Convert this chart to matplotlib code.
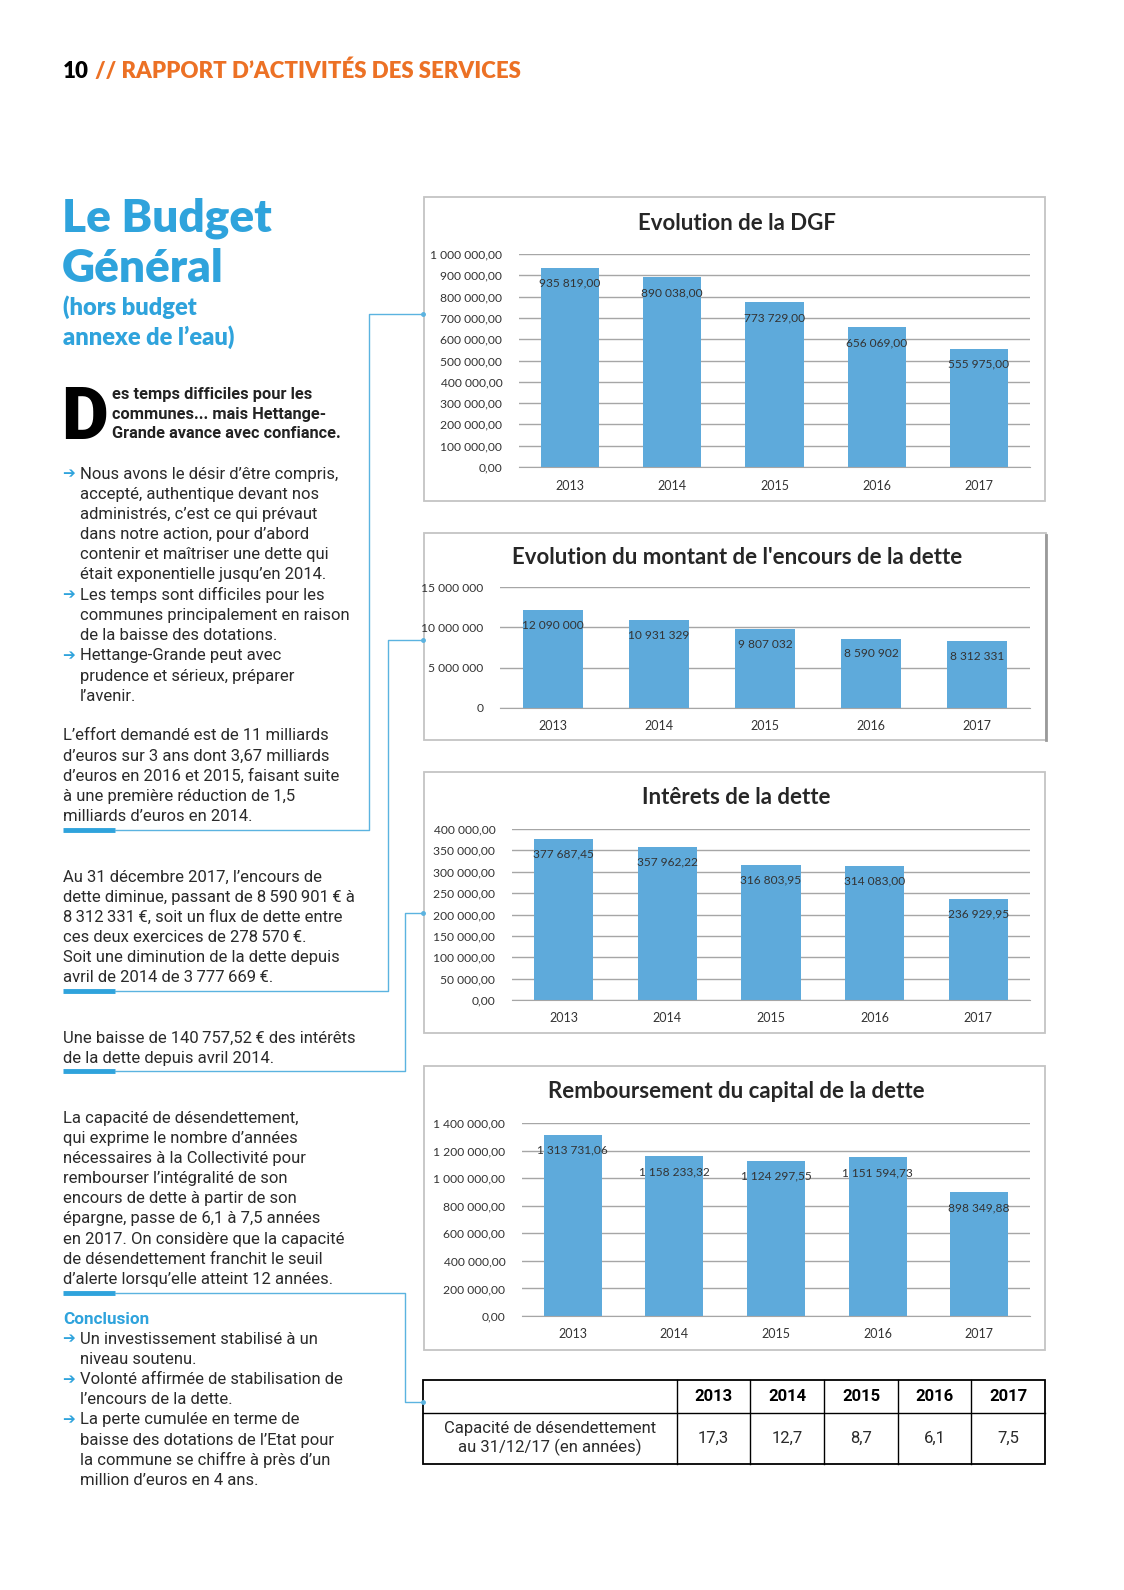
import numpy as np
import matplotlib.pyplot as plt
from matplotlib.patches import Rectangle

W, H = 1124, 1590

# données des graphiques
years = ["2013", "2014", "2015", "2016", "2017"]
dgf = [935819.00, 890038.00, 773729.00, 656069.00, 555975.00]
encours = [12090000, 10931329, 9807032, 8590902, 8312331]
interets = [377687.45, 357962.22, 316803.95, 314083.00, 236929.95]
rembours = [1313731.06, 1158233.32, 1124297.55, 1151594.73, 898349.88]
capacite = [17.3, 12.7, 8.7, 6.1, 7.5]

BLUE = "#2fa3dc"
LINE = "#5bb3e0"
BAR = "#5eaadb"
ORANGE = "#ec7125"
TXT = "#2a2a2a"
BODY = ["Roboto", "DejaVu Sans"]
CHART = ["Lato", "DejaVu Sans"]
FS = 12


def fr(v, dec=2):
    s = f"{v:,.{dec}f}"
    return s.replace(",", "X").replace(".", ",").replace("X", " ")


fig = plt.figure(figsize=(W / 100, H / 100), dpi=100)
bg = fig.add_axes([0, 0, 1, 1])
bg.set_xlim(0, W); bg.set_ylim(H, 0); bg.axis("off")

# en-tête
bg.text(63, 71, "10", fontsize=16, fontweight="heavy", family=["Lato"], color="black", va="center")
bg.text(95, 71, "// RAPPORT D\u2019ACTIVITÉS DES SERVICES", fontsize=16, fontweight="heavy",
        family=["Lato"], color=ORANGE, va="center")

# titre colonne gauche
bg.text(62, 218, "Le Budget", fontsize=33, fontweight="heavy", family=["Lato"], color=BLUE, va="center")
bg.text(62, 269, "Général", fontsize=33, fontweight="heavy", family=["Lato"], color=BLUE, va="center")
bg.text(63, 307, "(hors budget", fontsize=17, fontweight="heavy", family=["Lato"], color=BLUE, va="center")
bg.text(63, 337, "annexe de l\u2019eau)", fontsize=17, fontweight="heavy", family=["Lato"], color=BLUE, va="center")

# lettrine
bg.text(61, 439, "D", fontsize=52, fontweight="heavy", family=["Roboto"], color="black", va="baseline")
for y, s in zip([395, 415, 434], ["es temps difficiles pour les", "communes... mais Hettange-",
                                  "Grande avance avec confiance."]):
    bg.text(112, y, s, fontsize=11.8, fontweight="bold", family=BODY, color="#222222", va="center")


def para(x, y0, lines, step=20.2, bullets=()):
    for k, s in enumerate(lines):
        y = y0 + k * step
        if k in bullets:
            bg.text(62, y, "\u2794", fontsize=11, fontweight="bold", family=["DejaVu Sans"],
                    color=BLUE, va="center")
        bg.text(x, y, s, fontsize=FS, family=BODY, color=TXT, va="center")


para(80, 474, ["Nous avons le désir d\u2019être compris,", "accepté, authentique devant nos",
               "administrés, c\u2019est ce qui prévaut", "dans notre action, pour d\u2019abord",
               "contenir et maîtriser une dette qui", "était exponentielle jusqu\u2019en 2014.",
               "Les temps sont difficiles pour les", "communes principalement en raison",
               "de la baisse des dotations.", "Hettange-Grande peut avec",
               "prudence et sérieux, préparer", "l\u2019avenir."], bullets=(0, 6, 9))
para(63, 736, ["L\u2019effort demandé est de 11 milliards", "d\u2019euros sur 3 ans dont 3,67 milliards",
               "d\u2019euros en 2016 et 2015, faisant suite", "à une première réduction de 1,5",
               "milliards d\u2019euros en 2014."])
para(63, 877, ["Au 31 décembre 2017, l\u2019encours de", "dette diminue, passant de 8\u202f590\u202f901\u202f€ à",
               "8\u202f312\u202f331\u202f€, soit un flux de dette entre", "ces deux exercices de 278\u202f570\u202f€.",
               "Soit une diminution de la dette depuis", "avril de 2014 de 3\u202f777\u202f669\u202f€."])
para(63, 1038, ["Une baisse de 140\u202f757,52\u202f€ des intérêts", "de la dette depuis avril 2014."])
para(63, 1118, ["La capacité de désendettement,", "qui exprime le nombre d\u2019années",
                "nécessaires à la Collectivité pour", "rembourser l\u2019intégralité de son",
                "encours de dette à partir de son", "épargne, passe de 6,1 à 7,5 années",
                "en 2017. On considère que la capacité", "de désendettement franchit le seuil",
                "d\u2019alerte lorsqu\u2019elle atteint 12 années."])
bg.text(63, 1319, "Conclusion", fontsize=12.3, fontweight="bold", family=BODY, color=BLUE, va="center")
para(80, 1339, ["Un investissement stabilisé à un", "niveau soutenu.",
                "Volonté affirmée de stabilisation de", "l\u2019encours de la dette.",
                "La perte cumulée en terme de", "baisse des dotations de l\u2019Etat pour",
                "la commune se chiffre à près d\u2019un", "million d\u2019euros en 4 ans."],
     bullets=(0, 2, 4))

# traits de liaison
for yu, xv, yt in [(830, 369, 314), (991, 388, 640), (1071, 405, 913), (1293, 405, 1402)]:
    bg.plot([63, 115], [yu, yu], color=BLUE, lw=3.5, solid_capstyle="butt")
    bg.plot([115, xv, xv, 423], [yu, yu, yt, yt], color=LINE, lw=1)
    bg.plot([423], [yt], "o", color=LINE, ms=2.5)


def chart(box, plot, title, ty, values, ymax, step, dec):
    bx0, by0, bx1, by1 = box
    bg.add_patch(Rectangle((bx0, by0), bx1 - bx0, by1 - by0, fill=False, ec="#c4c4c4", lw=1.3))
    bg.text((bx0 + bx1) / 2 + 2, ty, title, fontsize=16, fontweight="bold", family=CHART,
            color="#262626", ha="center", va="center")
    x0, y0, x1, y1 = plot
    ax = fig.add_axes([x0 / W, 1 - y1 / H, (x1 - x0) / W, (y1 - y0) / H])
    ax.set_facecolor("none")
    ax.bar(range(len(values)), values, width=0.57, color=BAR, zorder=1)
    ax.set_xlim(-0.5, len(values) - 0.5)
    ax.set_ylim(0, ymax)
    ticks = np.arange(0, ymax + step / 2, step)
    ax.set_yticks(ticks)
    ax.set_yticklabels([fr(t, dec) for t in ticks], fontsize=8.7, family=CHART, color="#333333")
    ax.set_xticks(range(len(values)))
    ax.set_xticklabels(years, fontsize=9, family=CHART, color="#333333")
    ax.tick_params(length=0, axis="y", pad=12)
    ax.tick_params(length=0, axis="x", pad=9)
    ax.yaxis.grid(True, color="#a6a6a6", lw=1)
    ax.set_axisbelow(True)
    for sp in ["top", "left", "right"]:
        ax.spines[sp].set_visible(False)
    ax.spines["bottom"].set_color("#a6a6a6")
    for i, v in enumerate(values):
        ax.annotate(fr(v, dec), (i, v), xytext=(0, -11), textcoords="offset points",
                    ha="center", va="center", fontsize=8.6, family=CHART, color="#333333")
    return ax


chart((424, 197, 1045, 501), (519, 254, 1030, 467), "Evolution de la DGF", 223,
      dgf, 1000000, 100000, 2)
chart((424, 533, 1046, 740), (500, 587, 1030, 708), "Evolution du montant de l'encours de la dette", 557,
      encours, 15000000, 5000000, 0)
chart((424, 772, 1045, 1033), (512, 829, 1030, 1000), "Intêrets de la dette", 798,
      interets, 400000, 50000, 2)
chart((424, 1066, 1045, 1350), (522, 1123, 1030, 1316), "Remboursement du capital de la dette", 1092,
      rembours, 1400000, 200000, 2)
# ombre à droite du cadre de l'encours
bg.plot([1046, 1046], [535, 740], color="#9a9a9a", lw=2)

# tableau capacité de désendettement
tx = [423, 677, 750, 824, 898, 971, 1045]
ty0, ty1, ty2 = 1380, 1413, 1464
bg.add_patch(Rectangle((tx[0], ty0), tx[-1] - tx[0], ty2 - ty0, fill=False, ec="black", lw=1.3))
bg.plot([tx[0], tx[-1]], [ty1, ty1], color="black", lw=1)
for x in tx[1:-1]:
    bg.plot([x, x], [ty0, ty2], color="black", lw=1)
for k, (yr, c) in enumerate(zip(years, capacite)):
    xc = (tx[k + 1] + tx[k + 2]) / 2
    bg.text(xc, (ty0 + ty1) / 2, yr, fontsize=12, fontweight="bold", family=BODY, ha="center", va="center")
    bg.text(xc, (ty1 + ty2) / 2, fr(c, 1), fontsize=12, family=BODY,
            ha="center", va="center", color=TXT)
bg.text((tx[0] + tx[1]) / 2, (ty1 + ty2) / 2, "Capacité de désendettement\nau 31/12/17 (en années)",
        fontsize=12, family=BODY, ha="center", va="center", color=TXT, linespacing=1.25)

fig.savefig("out.png", dpi=100)
